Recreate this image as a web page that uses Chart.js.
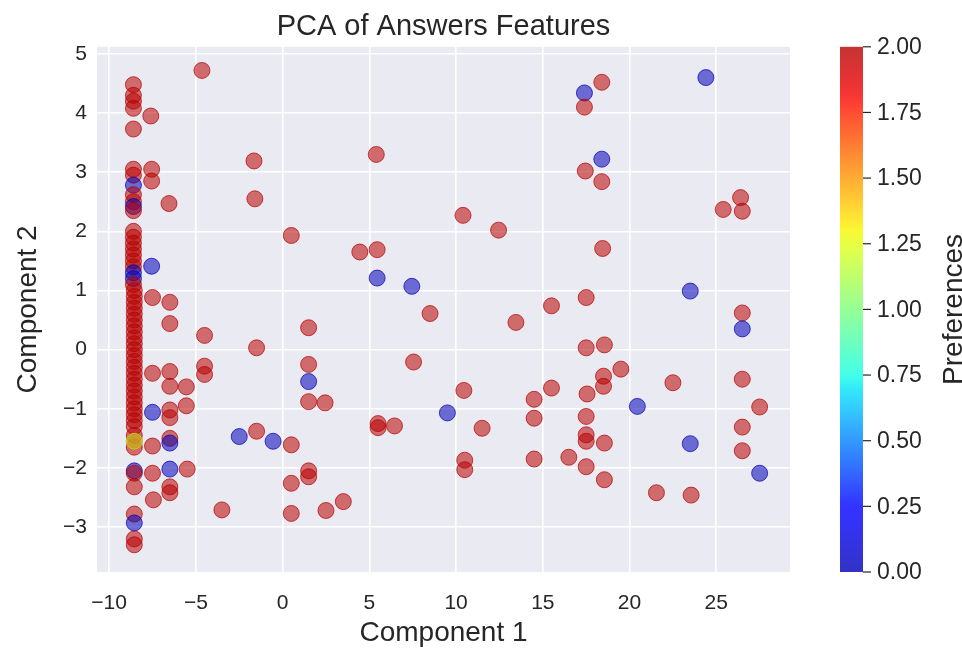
<!DOCTYPE html>
<html>
<head>
<meta charset="utf-8">
<script src="https://cdn.jsdelivr.net/npm/chart.js@4"></script>
<style>
    html, body { margin: 0; padding: 0; background: #ffffff; }
    #wrap { width: 962px; height: 650px; }
</style>
</head>
<body>
<div id="wrap"><canvas id="pca"></canvas></div>
<script>
// --- Data ---
// Component 1 / Component 2 / preference value of every answer
const comp1 = [
    // dense column at the left
    -8.6, -8.6, -8.6, -8.6, -8.6, -8.6, -8.6, -8.6, -8.6, -8.6,
    -8.6, -8.6, -8.6, -8.6, -8.6, -8.6, -8.6, -8.6, -8.6, -8.6,
    -8.6, -8.6, -8.55, -8.55, -8.55, -8.55, -8.55, -8.55, -8.55, -8.55,
    -8.55, -8.55, -8.55, -8.55, -8.55, -8.55, -8.55, -8.55, -8.55, -8.55,
    -8.55, -8.55, -8.55, -8.55, -8.55, -8.55, -8.55, -8.55, -8.55, -8.55,
    -8.55, -8.55, -8.55, -8.55, -8.55, -8.55, -8.55,
    // rest
    -7.6, -7.55, -7.55, -6.55, -4.65, -1.65, -1.6, 0.5, -7.55, -7.5,
    -6.5, -6.5, -4.5, -1.5, 1.5, -7.5, -6.5, -6.5, -5.55, -5.55,
    -4.5, -4.5, -7.5, -6.5, -6.5, -7.5, -6.5, -6.5, -7.5, -6.5,
    -5.5, -6.5, -6.5, -7.45, -3.5, -2.5, -1.5, -0.55, 0.5, 1.5,
    1.5, 0.5, 0.5, 2.5, 3.5, 1.5, 1.5, 1.5, 2.45, 5.4,
    10.4, 12.45, 4.45, 5.45, 5.45, 7.45, 8.5, 15.5, 13.45, 7.55,
    10.45, 9.5, 5.5, 5.5, 6.45, 11.5, 14.5, 15.5, 14.5, 14.5,
    10.5, 10.5, 18.4, 17.4, 17.4, 24.4, 18.4, 17.45, 18.4,
    26.4, 25.4, 26.5, 18.45, 23.5, 17.5, 26.5, 26.5, 17.5, 18.55,
    19.5, 18.5, 18.5, 17.55, 22.5, 20.45, 26.5, 27.5, 26.5, 17.5,
    17.5, 17.5, 18.55, 23.5, 26.5, 27.5, 16.5, 17.5, 18.55, 21.55,
    23.55
];
const comp2 = [
    4.48, 4.3, 4.2, 4.08, 3.73, 3.05, 2.95, 2.78, 2.62, 2.5,
    2.42, 2.35, 2.0, 1.9, 1.8, 1.7, 1.6, 1.5, 1.4, 1.3,
    1.2, 1.1, 1.0, 0.9, 0.8, 0.7, 0.6, 0.5, 0.4, 0.3,
    0.2, 0.1, 0.0, -0.1, -0.2, -0.3, -0.4, -0.5, -0.6, -0.7,
    -0.8, -0.9, -1.0, -1.1, -1.2, -1.3, -1.45, -1.55, -1.65, -1.55,
    -2.05, -2.09, -2.32, -2.78, -2.93, -3.2, -3.3,
    3.95, 3.05, 2.85, 2.47, 4.72, 3.19, 2.55, 1.93, 1.41, 0.88,
    0.8, 0.44, 0.24, 0.03, 0.37, -0.4, -0.37, -0.62, -0.63, -0.95,
    -0.28, -0.42, -1.06, -1.02, -1.15, -1.63, -1.5, -1.58, -2.09, -2.02,
    -2.02, -2.32, -2.42, -2.54, -2.71, -1.47, -1.38, -1.55, -1.61, -2.05,
    -2.15, -2.26, -2.77, -2.72, -2.57, -0.25, -0.54, -0.88, -0.9, 3.3,
    2.27, 2.02, 1.65, 1.69, 1.21, 1.07, 0.61, 0.74, 0.46, -0.21,
    -0.69, -1.07, -1.25, -1.32, -1.29, -1.33, -0.84, -0.65, -1.16, -1.85,
    -1.87, -2.03, 4.52, 4.34, 4.1, 4.6, 3.22, 3.02, 2.84,
    2.57, 2.37, 2.34, 1.71, 0.99, 0.88, 0.62, 0.35, 0.03, 0.08,
    -0.33, -0.45, -0.62, -0.75, -0.56, -0.96, -0.5, -0.97, -1.31, -1.13,
    -1.44, -1.55, -1.58, -1.59, -1.71, -2.09, -1.82, -1.98, -2.2, -2.42,
    -2.46
];
const preferences = [
    2, 2, 2, 2, 2, 2, 2, 0, 2, 2,
    0, 2, 2, 2, 2, 2, 2, 2, 2, 0,
    0, 2, 2, 2, 2, 2, 2, 2, 2, 2,
    2, 2, 2, 2, 2, 2, 2, 2, 2, 2,
    2, 2, 2, 2, 2, 2, 2, 2, 2, 1.2,
    0, 2, 2, 2, 0, 2, 2,
    2, 2, 2, 2, 2, 2, 2, 2, 0, 2,
    2, 2, 2, 2, 2, 2, 2, 2, 2, 2,
    2, 2, 0, 2, 2, 2, 2, 0, 2, 0,
    2, 2, 2, 2, 2, 0, 2, 0, 2, 2,
    2, 2, 2, 2, 2, 2, 0, 2, 2, 2,
    2, 2, 2, 2, 0, 0, 2, 2, 2, 2,
    2, 0, 2, 2, 2, 2, 2, 2, 2, 2,
    2, 2, 2, 0, 2, 0, 0, 2, 2,
    2, 2, 2, 2, 0, 2, 2, 0, 2, 2,
    2, 2, 2, 2, 2, 0, 2, 2, 2, 2,
    2, 2, 2, 0, 2, 0, 2, 2, 2, 2,
    2
];

const xTicks = [-10, -5, 0, 5, 10, 15, 20, 25];
const yTicks = [-3, -2, -1, 0, 1, 2, 3, 4, 5];
const cbTicks = [0, 0.25, 0.5, 0.75, 1.0, 1.25, 1.5, 1.75, 2.0];
const prefMin = 0, prefMax = 2;

// --- Jet colormap (ends lifted a little, like the picture) ---
function interp(t, pts) {
    for (let i = 1; i < pts.length; i++) {
        if (t <= pts[i][0]) {
            const [x0, y0] = pts[i - 1], [x1, y1] = pts[i];
            return y0 + (y1 - y0) * (t - x0) / (x1 - x0);
        }
    }
    return pts[pts.length - 1][1];
}

function jet(v, alpha) {
    const t = Math.min(1, Math.max(0, (v - prefMin) / (prefMax - prefMin)));
    const r = interp(t, [[0, 0], [0.35, 0], [0.66, 1], [0.89, 1], [1, 0.72]]);
    const g = interp(t, [[0, 0], [0.125, 0], [0.375, 1], [0.64, 1], [0.91, 0], [1, 0]]);
    const b = interp(t, [[0, 0.72], [0.11, 1], [0.34, 1], [0.65, 0], [1, 0]]);
    return `rgba(${Math.round(r * 255)},${Math.round(g * 255)},${Math.round(b * 255)},${alpha})`;
}

const TEXT = '#262626';
const FONT = "'Liberation Sans', Arial, sans-serif";

// --- Colorbar (drawn next to the plot) ---
const colorbarPlugin = {
    id: 'colorbar',
    afterDraw(chart) {
        const { ctx, chartArea } = chart;
        const x0 = 840, w = 23;
        const top = chartArea.top, bottom = chartArea.bottom;

        const grad = ctx.createLinearGradient(0, bottom, 0, top);
        for (let i = 0; i <= 40; i++) {
            const v = prefMin + (prefMax - prefMin) * i / 40;
            grad.addColorStop(i / 40, jet(v, 0.8));
        }
        ctx.save();
        ctx.fillStyle = grad;
        ctx.fillRect(x0, top, w, bottom - top);

        ctx.strokeStyle = TEXT;
        ctx.lineWidth = 1.2;
        ctx.fillStyle = TEXT;
        ctx.font = `23px ${FONT}`;
        ctx.textAlign = 'left';
        ctx.textBaseline = 'middle';
        cbTicks.forEach(v => {
            const y = bottom - (v - prefMin) / (prefMax - prefMin) * (bottom - top);
            ctx.beginPath();
            ctx.moveTo(x0 + w, y);
            ctx.lineTo(x0 + w + 8, y);
            ctx.stroke();
            ctx.fillText(v.toFixed(2), x0 + w + 14, y + 1);
        });

        ctx.translate(954, (top + bottom) / 2);
        ctx.rotate(-Math.PI / 2);
        ctx.textAlign = 'center';
        ctx.font = `28px ${FONT}`;
        ctx.fillText('Preferences', 0, 0);
        ctx.restore();
    }
};

// plot background
const plotBgPlugin = {
    id: 'plotBg',
    beforeDraw(chart) {
        const { ctx, chartArea: a } = chart;
        ctx.save();
        ctx.fillStyle = '#eaeaf2';
        ctx.fillRect(a.left, a.top, a.right - a.left, a.bottom - a.top);
        ctx.restore();
    }
};

// --- Chart ---
const points = comp1.map((x, i) => ({ x, y: comp2[i] }));

new Chart(document.getElementById('pca'), {
    type: 'scatter',
    data: {
        datasets: [{
            label: 'Answers',
            data: points,
            pointRadius: 8,
            pointHoverRadius: 8,
            backgroundColor: c => jet(preferences[c.dataIndex], 0.55),
            borderColor: c => jet(preferences[c.dataIndex], 0.7),
            borderWidth: 1
        }]
    },
    options: {
        responsive: true,
        maintainAspectRatio: false,
        animation: false,
        layout: { padding: { left: 0, right: 172, top: 0, bottom: 0 } },
        plugins: {
            legend: { display: false },
            tooltip: { enabled: false },
            title: {
                display: true,
                fullSize: false,
                text: 'PCA of Answers Features',
                color: TEXT,
                font: { family: FONT, size: 29, weight: 'normal' },
                padding: { top: 10, bottom: 2 }
            }
        },
        scales: {
            x: {
                type: 'linear',
                min: -10.7,
                max: 29.25,
                afterFit: s => { s.height = 78; },
                afterBuildTicks: s => { s.ticks = xTicks.map(v => ({ value: v })); },
                grid: { color: '#ffffff', lineWidth: 1.6, drawTicks: false },
                border: { display: false },
                ticks: {
                    color: TEXT,
                    padding: 19,
                    font: { family: FONT, size: 21 },
                    callback: v => String(v).replace('-', '\u2212')
                },
                title: {
                    display: true,
                    text: 'Component 1',
                    color: TEXT,
                    font: { family: FONT, size: 28 },
                    padding: { top: 0, bottom: 0 }
                }
            },
            y: {
                type: 'linear',
                min: -3.76,
                max: 5.12,
                afterFit: s => { s.width = 97; },
                afterBuildTicks: s => { s.ticks = yTicks.map(v => ({ value: v })); },
                grid: { color: '#ffffff', lineWidth: 1.6, drawTicks: false },
                border: { display: false },
                ticks: {
                    color: TEXT,
                    padding: 10,
                    font: { family: FONT, size: 21 },
                    callback: v => String(v).replace('-', '\u2212')
                },
                title: {
                    display: true,
                    text: 'Component 2',
                    color: TEXT,
                    font: { family: FONT, size: 28 },
                    padding: { top: 11, bottom: 0 }
                }
            }
        }
    },
    plugins: [plotBgPlugin, colorbarPlugin]
});
</script>
</body>
</html>
